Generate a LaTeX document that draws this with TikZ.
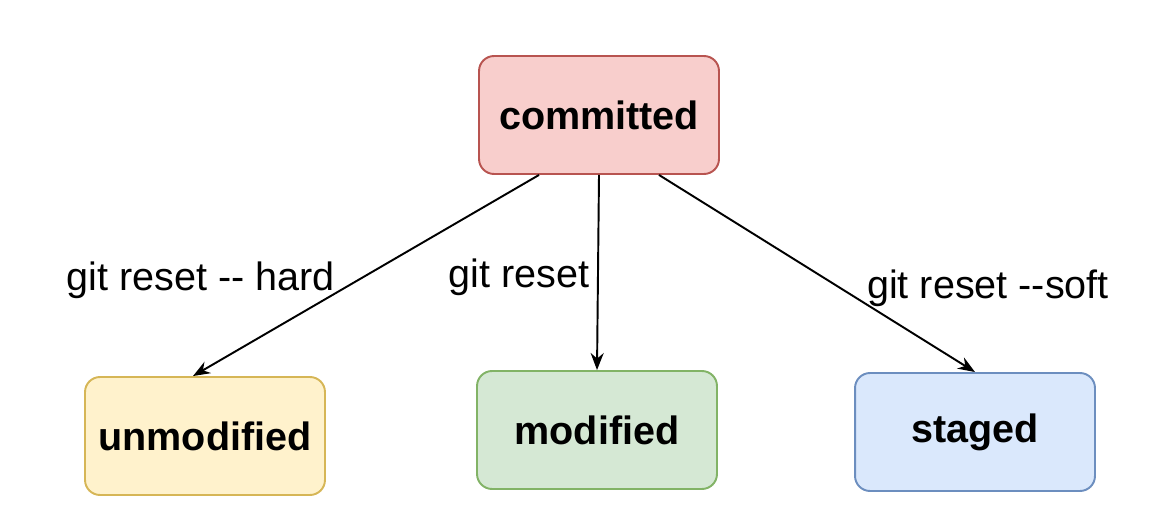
\documentclass[tikz,border=0pt]{standalone}
\usepackage{fontspec}
\setmainfont{Liberation Sans}
\usetikzlibrary{arrows.meta}
\definecolor{redfill}{HTML}{F8CECC}
\definecolor{redline}{HTML}{B85450}
\definecolor{yellowfill}{HTML}{FFF2CC}
\definecolor{yellowline}{HTML}{D6B656}
\definecolor{greenfill}{HTML}{D5E8D4}
\definecolor{greenline}{HTML}{82B366}
\definecolor{bluefill}{HTML}{DAE8FC}
\definecolor{blueline}{HTML}{6C8EBF}
\begin{document}
\begin{tikzpicture}[x=.02cm, y=.02cm,
  state/.style={rectangle, rounded corners=0.3cm, minimum width=4.8cm, minimum height=2.36cm, line width=1.1pt, font=\fontsize{22.5}{27}\selectfont\bfseries},
  cmd/.style={font=\fontsize{22.5}{27}\selectfont},
  reset/.style={-{Stealth[length=0.34cm, width=0.26cm]}, line width=1.1pt}]
\useasboundingbox (0,0) rectangle (1176,524);
\node[state, fill=redfill, draw=redline] (committed) at (599,409){committed};
\node[state, fill=yellowfill, draw=yellowline] (unmodified) at (205,88){unmodified};
\node[state, fill=greenfill, draw=greenline] (modified) at (597,94){modified};
\node[state, fill=bluefill, draw=blueline] (staged) at (975,92){staged};
\draw[reset]([xshift=-1.2cm]committed.south) -- ([xshift=-0.24cm]unmodified.north);
\draw[reset](committed.south) -- (modified.north);
\draw[reset]([xshift=1.2cm]committed.south) -- (staged.north);
\node[cmd] (hard) at (201,244){git reset -{}- hard};
\node[cmd] (mixed) at (519,247){git reset};
\node[cmd] (soft) at (988,236){git reset -{}-soft};
\end{tikzpicture}
\end{document}
